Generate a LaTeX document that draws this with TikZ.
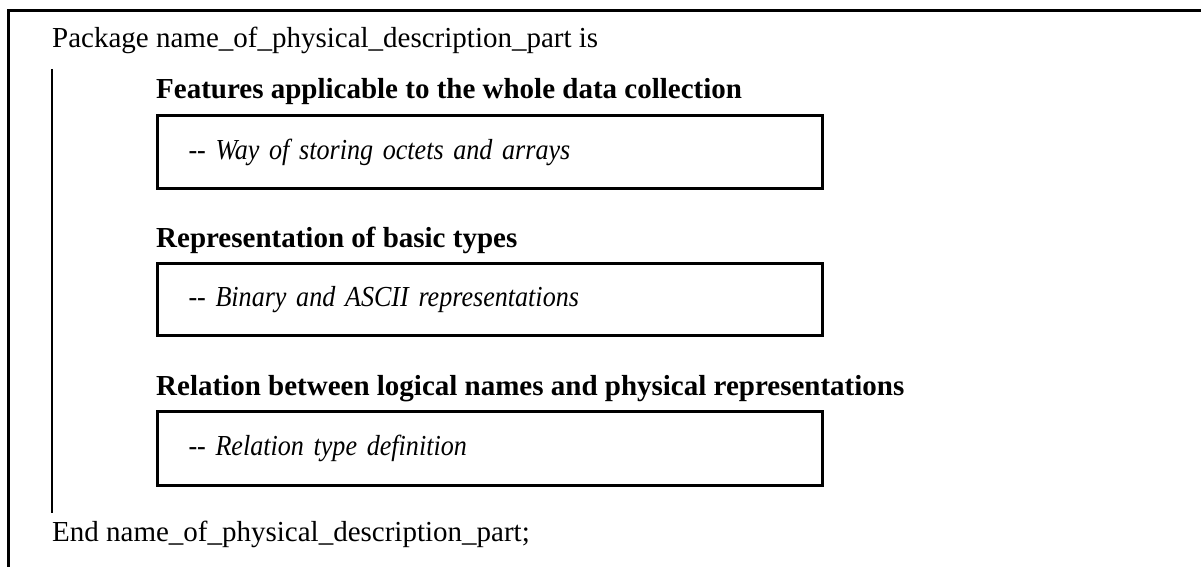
\documentclass[tikz,border=0pt]{standalone}
\usepackage{fontspec}
\setmainfont{Liberation Serif}
\newfontfamily\narrowit[FakeStretch=0.9]{Liberation Serif Italic}
\begin{document}
\begin{tikzpicture}[x=1pt,y=-1pt,
  frameline/.style={line width=3pt, line join=miter},
  plain/.style={anchor=base west, inner sep=0pt, font=\fontsize{29}{33}\selectfont},
  head/.style={anchor=base west, inner sep=0pt, font=\fontsize{29}{33}\selectfont\bfseries},
  commentbox/.style={draw, line width=3pt, anchor=north west, minimum width=665pt,
    text width=603pt, inner xsep=31pt, align=left,
    font=\fontsize{29}{33}\narrowit}]
\useasboundingbox (0,0) rectangle (1201,567);
\coordinate (tr) at (1201,11);
\coordinate (tl) at (8,11);
\coordinate (bl) at (8,567);
\draw[frameline] (tr) -- (tl) -- (bl);
\coordinate (vt) at (52,69);
\coordinate (vb) at (52,513);
\draw[line width=2.5pt] (vt) -- (vb);
\node[plain] (pkg) at (52,48) {Package name\_of\_physical\_description\_part is};
\node[head] (h1) at (156,99) {Features applicable to the whole data collection};
\node[commentbox, minimum height=73pt] (b1) at (156,114) {-{}- Way of storing octets and arrays};
\node[head] (h2) at (156,247) {Representation of basic types};
\node[commentbox, minimum height=72pt] (b2) at (156,262) {-{}- Binary and ASCII representations};
\node[head] (h3) at (156,395) {Relation between logical names and physical representations};
\node[commentbox, minimum height=74pt] (b3) at (156,410) {-{}- Relation type definition};
\node[plain] (end) at (52,541) {End name\_of\_physical\_description\_part;};
\end{tikzpicture}
\end{document}
